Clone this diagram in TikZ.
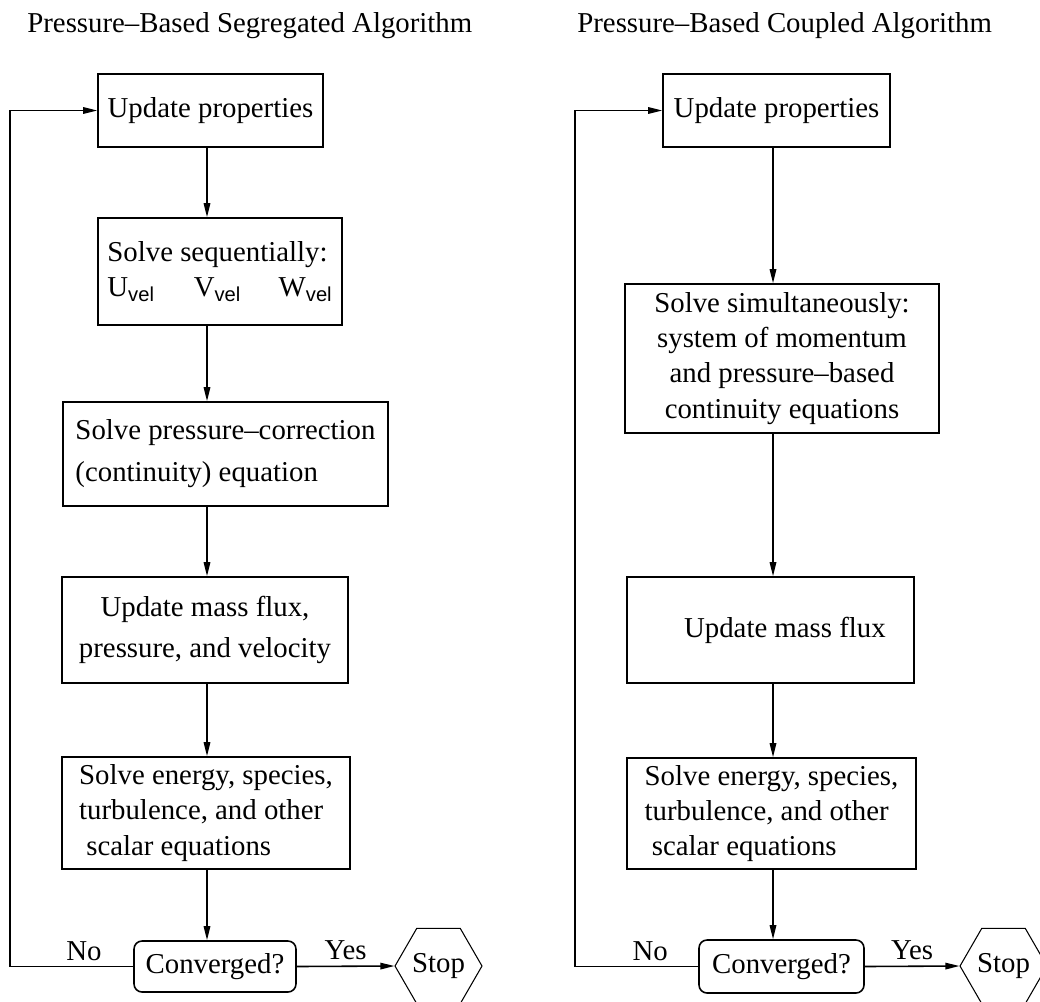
\documentclass[tikz,border=0pt]{standalone}
\usepackage{fontspec}
\setmainfont{Liberation Serif}
\setsansfont{Liberation Sans}
\usetikzlibrary{shapes.geometric, arrows.meta}
\tikzset{
  arr/.style={-{Triangle[length=0.28cm, width=0.13cm]}, line width=0.9pt},
  flowbox/.style={rectangle, draw, line width=0.9pt, inner sep=2pt, align=center},
  testbox/.style={rectangle, rounded corners=0.16cm, draw, line width=0.9pt, inner sep=2pt},
  stopbox/.style={regular polygon, regular polygon sides=6, draw, line width=0.6pt, inner sep=0pt, minimum size=1.74cm},
  lbl/.style={above, inner sep=3pt},
}
\newcommand{\vsub}[1]{#1\textsubscript{\sffamily vel}}

\begin{document}
\begin{tikzpicture}[x=0.02cm, y=-0.02cm, font=\fontsize{16.4}{20}\selectfont]
  \clip (0,0) rectangle (1040,1001);
  \fill[white] (0,0) rectangle (1040,1001);

  % Titles
  \node[anchor=base west, inner sep=0pt] (LT) at (27,32) {Pressure–Based Segregated Algorithm};
  \node[anchor=base west, inner sep=0pt] (RT) at (577,32) {Pressure–Based Coupled Algorithm};

  % Left column (segregated)
  \node[flowbox, minimum width=4.5cm, minimum height=1.46cm] (LU) at (210.5,110.5) {Update properties};
  \node[flowbox, align=left, minimum width=4.88cm, minimum height=2.14cm] (LS) at (220,271.5)
    {Solve sequentially:\\ \vsub{U}\hspace{1.35em}\vsub{V}\hspace{1.3em}\vsub{W}};
  \node[flowbox, align=left, minimum width=6.5cm, minimum height=2.08cm] (LP) at (225.5,454)
    {Solve pressure–correction\\[4pt] (continuity) equation};
  \node[flowbox, minimum width=5.72cm, minimum height=2.12cm] (LM) at (205,630)
    {Update mass flux,\\[3pt] pressure, and velocity};
  \node[flowbox, align=left, minimum width=5.76cm, minimum height=2.24cm] (LE) at (206,813)
    {Solve energy, species,\\ turbulence, and other\\ \ scalar equations};
  \node[testbox, minimum width=3.24cm, minimum height=1.02cm] (LC) at (215,966.5) {Converged?};
  \node[stopbox] (LX) at (438.5,966) {Stop};

  % Right column (coupled)
  \node[flowbox, minimum width=4.54cm, minimum height=1.46cm] (RU) at (776.5,110.5) {Update properties};
  \node[flowbox, minimum width=6.28cm, minimum height=2.98cm] (RS) at (782,358.5)
    {Solve simultaneously:\\ system of momentum\\ and pressure–based\\ continuity equations};
  \node[flowbox, minimum width=5.74cm, minimum height=2.12cm] (RM) at (770.5,630) {\hspace{1em}Update mass flux};
  \node[flowbox, align=left, minimum width=5.78cm, minimum height=2.22cm] (RE) at (771.5,813.5)
    {Solve energy, species,\\ turbulence, and other\\ \ scalar equations};
  \node[testbox, minimum width=3.3cm, minimum height=1.06cm] (RC) at (781.5,966.5) {Converged?};
  \node[stopbox] (RX) at (1003.5,966) {Stop};

  \coordinate (Lspine) at (207,0);
  \coordinate (Rspine) at (773,0);
  \coordinate (Lloop) at (10,0);
  \coordinate (Rloop) at (575,0);

  \foreach \a/\b in {LU/LS,LS/LP,LP/LM,LM/LE,LE/LC} {
    \draw[arr] (\a.south -| Lspine) -- (\b.north -| Lspine);
  }
  \foreach \a/\b in {RU/RS,RS/RM,RM/RE,RE/RC} {
    \draw[arr] (\a.south -| Rspine) -- (\b.north -| Rspine);
  }

  % Convergence checks
  \draw[arr] (LC.west) -- node[lbl, pos=0.4] {No} (LC.west -| Lloop) |- (LU.west);
  \draw[arr] (LC.east) -- node[lbl] {Yes} (LX.west);
  \draw[arr] (RC.west) -- node[lbl, pos=0.39] {No} (RC.west -| Rloop) |- (RU.west);
  \draw[arr] (RC.east) -- node[lbl] {Yes} (RX.west);
\end{tikzpicture}
\end{document}
